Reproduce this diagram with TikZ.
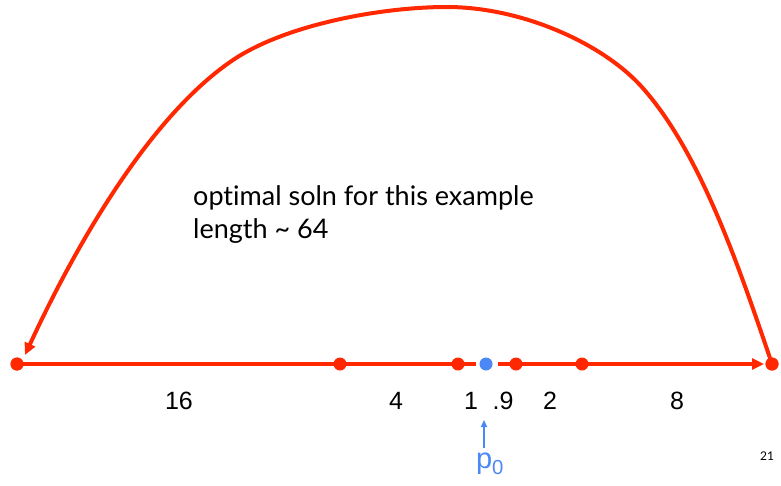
\documentclass[tikz,border=0pt]{standalone}
\usepackage{fontspec}
\setmainfont{Liberation Sans}
\newfontfamily\gillfont[Ligatures=NoCommon]{Lato}
\usetikzlibrary{arrows.meta}
\definecolor{tourred}{RGB}{255,40,0}
\definecolor{startblue}{RGB}{75,135,245}
\tikzset{
  redline/.style={tourred, line width=4pt},
  reddot/.style={circle, fill=tourred, inner sep=0pt, minimum size=13pt},
  bluedot/.style={circle, fill=startblue, inner sep=0pt, minimum size=13pt},
  dist/.style={font=\fontsize{25}{25}\selectfont},
  note/.style={anchor=base west, inner sep=0pt, font=\gillfont\fontsize{27}{27}\selectfont},
}
\begin{document}
\begin{tikzpicture}[x=1pt,y=-1pt]
\useasboundingbox (0,0) rectangle (781,485);
%%%%%%%%% points on the line
\node[reddot] (p16) at (17,364) {};
\node[reddot] (p4) at (340,364) {};
\node[reddot] (p1) at (458,364) {};
\node[bluedot] (p0) at (486,364) {};
\node[reddot] (p9) at (516,364) {};
\node[reddot] (p2) at (582,364) {};
\node[reddot] (p8) at (772,364) {};

\coordinate (gapL) at (476,364);
\coordinate (gapR) at (498,364);
\coordinate (tipR) at (764,364);
\coordinate (tipL) at (25,355);

%%%%%%%%% tour
\draw[redline] (p16.center) -- (gapL);
\draw[redline,-{Triangle[length=12pt,width=11pt]}] (gapR) -- (tipR);
\draw[redline,-{Triangle[length=12pt,width=11pt]}] (p8.center)
  .. controls (740,270) and (700,150) .. (640,85)
  .. controls (600,42) and (520,7) .. (447,7)
  .. controls (380,7) and (285,25) .. (233,60)
  .. controls (135,126) and (55,290) .. (tipL);
\node[reddot] at (p16) {};
\node[reddot] at (p8) {};

%%%%%%%%% labels
\node[dist] (l16) at (179,401) {16};
\node[dist] (l4) at (396,401) {4};
\node[dist] (l1) at (471,401) {1};
\node[dist] (l9) at (503,401) {.9};
\node[dist] (l2) at (550,401) {2};
\node[dist] (l8) at (677,401) {8};

\node[note] (txt1) at (193,205) {optimal soln for this example};
\node[note] (txt2) at (193,238) {length \textasciitilde{} 64};

\node[startblue, font=\fontsize{29}{29}\selectfont] (start) at (490,464) {p\textsubscript{0}};
\draw[startblue, line width=1.6pt, -{Triangle[length=7pt,width=6pt]}] (484,448) -- (484,420);

\node[font=\gillfont\fontsize{12}{12}\selectfont] (page) at (767,456) {21};
\end{tikzpicture}
\end{document}
